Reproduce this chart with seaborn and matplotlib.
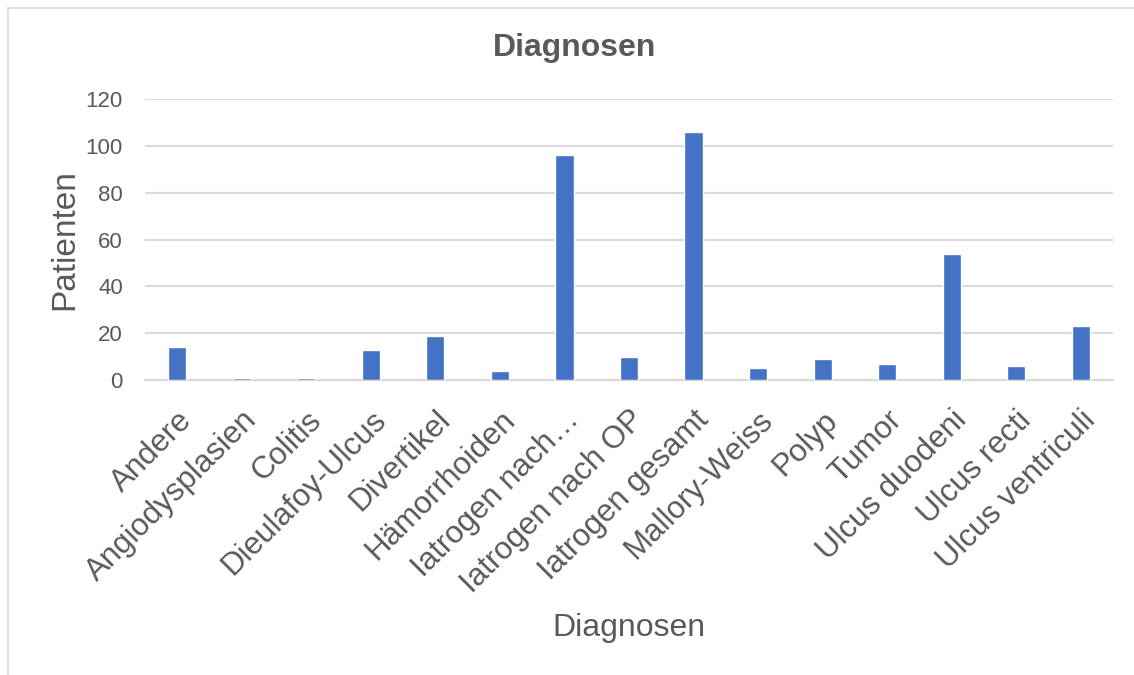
import matplotlib
matplotlib.use("Agg")
import matplotlib.pyplot as plt
from matplotlib.patches import Rectangle
import seaborn as sns
import pandas as pd

categories = [
    "Andere", "Angiodysplasien", "Colitis", "Dieulafoy-Ulcus", "Divertikel",
    "Hämorrhoiden", "Iatrogen nach…", "Iatrogen nach OP", "Iatrogen gesamt",
    "Mallory-Weiss", "Polyp", "Tumor", "Ulcus duodeni", "Ulcus recti",
    "Ulcus ventriculi",
]
patienten = [14, 1, 1, 13, 19, 4, 96, 10, 106, 5, 9, 7, 54, 6, 23]
y_ticks = [0, 20, 40, 60, 80, 100, 120]

title = "Diagnosen"
x_label = "Diagnosen"
y_label = "Patienten"

bar_color = "#4472C4"
grid_color = "#D9D9D9"
text_color = "#595959"

sns.set_theme(style="white")
plt.rcParams["font.family"] = ["Liberation Sans", "DejaVu Sans"]

df = pd.DataFrame({"Diagnose": categories, "Patienten": patienten})

fig = plt.figure(figsize=(11.34, 6.75), dpi=100)
ax = fig.add_axes([145 / 1134, 1 - 380 / 675, (1113 - 145) / 1134, (380 - 99) / 675])

sns.barplot(data=df, x="Diagnose", y="Patienten", color=bar_color,
            width=0.28, saturation=1, ax=ax, zorder=3)

ax.set_ylim(0, 120)
ax.set_yticks(y_ticks)
ax.set_xlim(-0.5, len(categories) - 0.5)
ax.yaxis.grid(True, color=grid_color, linewidth=1.5, zorder=0)
ax.xaxis.grid(False)
for side in ["top", "right", "left"]:
    ax.spines[side].set_visible(False)
ax.spines["bottom"].set_color(grid_color)
ax.spines["bottom"].set_linewidth(1.5)
ax.tick_params(axis="both", length=0, colors=text_color)
ax.tick_params(axis="y", labelsize=16, pad=16)
ax.tick_params(axis="x", labelsize=22.5, pad=18)

ax.set_xticks(range(len(categories)))
ax.set_xticklabels(categories, rotation=45, ha="right", rotation_mode="anchor")

ax.set_xlabel(x_label, fontsize=23, color=text_color, labelpad=10)
ax.set_ylabel(y_label, fontsize=24, color=text_color, labelpad=4)

fig.text(575 / 1134, 1 - 48 / 675, title, ha="center", va="center",
         fontsize=23, fontweight="bold", color=text_color)

# chart-area frame
fig.patches.append(Rectangle((8 / 1134, -0.1), 1.2, 1 - 8 / 675 + 0.1,
                             transform=fig.transFigure, fill=False,
                             edgecolor=grid_color, linewidth=1.2))

fig.savefig("out.png", dpi=100)
